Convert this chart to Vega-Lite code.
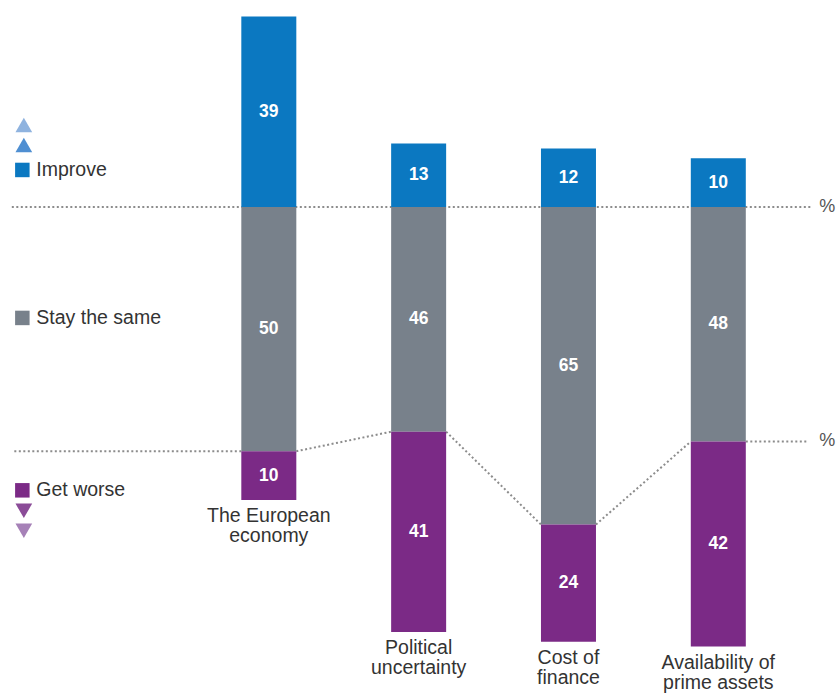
{
  "$schema": "https://vega.github.io/schema/vega-lite/v6.json",
  "width": 805,
  "height": 693,
  "autosize": {"type": "none"},
  "padding": {"left": 10, "right": 21, "top": 0, "bottom": 0},
  "background": "white",
  "config": {"view": {"stroke": null}, "font": "Liberation Sans"},
  "data": {"values": [
    {"category": "The European economy", "label": "The European\neconomy", "idx": 0, "response": "Improve", "pct": 39},
    {"category": "The European economy", "label": "The European\neconomy", "idx": 0, "response": "Stay the same", "pct": 50},
    {"category": "The European economy", "label": "The European\neconomy", "idx": 0, "response": "Get worse", "pct": 10},
    {"category": "Political uncertainty", "label": "Political\nuncertainty", "idx": 1, "response": "Improve", "pct": 13},
    {"category": "Political uncertainty", "label": "Political\nuncertainty", "idx": 1, "response": "Stay the same", "pct": 46},
    {"category": "Political uncertainty", "label": "Political\nuncertainty", "idx": 1, "response": "Get worse", "pct": 41},
    {"category": "Cost of finance", "label": "Cost of\nfinance", "idx": 2, "response": "Improve", "pct": 12},
    {"category": "Cost of finance", "label": "Cost of\nfinance", "idx": 2, "response": "Stay the same", "pct": 65},
    {"category": "Cost of finance", "label": "Cost of\nfinance", "idx": 2, "response": "Get worse", "pct": 24},
    {"category": "Availability of prime assets", "label": "Availability of\nprime assets", "idx": 3, "response": "Improve", "pct": 10},
    {"category": "Availability of prime assets", "label": "Availability of\nprime assets", "idx": 3, "response": "Stay the same", "pct": 48},
    {"category": "Availability of prime assets", "label": "Availability of\nprime assets", "idx": 3, "response": "Get worse", "pct": 42}
  ]},
  "transform": [
    {"calculate": "indexof(['Improve','Stay the same','Get worse'], datum.response)", "as": "ord"},
    {"calculate": "datum.response === 'Improve' ? datum.pct : -datum.pct", "as": "signed"},
    {"stack": "signed", "groupby": ["category"], "sort": [{"field": "ord", "order": "ascending"}], "as": ["y0", "y1"]},
    {"calculate": "(datum.y0 + datum.y1) / 2", "as": "ymid"},
    {"calculate": "min(datum.y0, datum.y1)", "as": "ybot"},
    {"calculate": "max(datum.y0, datum.y1)", "as": "ytop"}
  ],
  "layer": [
    {
      "transform": [
        {"filter": "datum.response === 'Stay the same'"},
        {"window": [{"op": "lead", "field": "idx", "as": "nidx"}, {"op": "lead", "field": "ybot", "as": "nybot"}], "sort": [{"field": "idx", "order": "ascending"}]},
        {"filter": "datum.nidx != null"}
      ],
      "mark": {"type": "rule", "color": "#8c8c8c", "strokeWidth": 2, "strokeDash": [2, 2.5], "xOffset": 27.5, "x2Offset": -27.5},
      "encoding": {
        "x": {"field": "idx", "type": "quantitative", "scale": {"domain": [-1.694, 3.612], "nice": false, "zero": false}, "axis": null},
        "x2": {"field": "nidx"},
        "y": {"field": "ybot", "type": "quantitative", "scale": {"domain": [-99.5, 42.4], "nice": false, "zero": false}, "axis": null},
        "y2": {"field": "nybot"}
      }
    },
    {
      "transform": [{"filter": "datum.response === 'Stay the same' && datum.idx === 0"}],
      "mark": {"type": "rule", "color": "#8c8c8c", "strokeWidth": 2, "strokeDash": [2, 2.5], "xOffset": -257, "x2Offset": 543},
      "encoding": {
        "x": {"field": "idx", "type": "quantitative", "axis": null},
        "x2": {"field": "idx"},
        "y": {"field": "ytop", "type": "quantitative", "axis": null}
      }
    },
    {
      "transform": [{"filter": "datum.response === 'Stay the same' && datum.idx === 0"}],
      "mark": {"type": "rule", "color": "#8c8c8c", "strokeWidth": 2, "strokeDash": [2, 2.5], "xOffset": -27.5, "x2Offset": -257},
      "encoding": {
        "x": {"field": "idx", "type": "quantitative", "axis": null},
        "x2": {"field": "idx"},
        "y": {"field": "ybot", "type": "quantitative", "axis": null}
      }
    },
    {
      "transform": [{"filter": "datum.response === 'Stay the same' && datum.idx === 3"}],
      "mark": {"type": "rule", "color": "#8c8c8c", "strokeWidth": 2, "strokeDash": [2, 2.5], "xOffset": 27.5, "x2Offset": 88},
      "encoding": {
        "x": {"field": "idx", "type": "quantitative", "axis": null},
        "x2": {"field": "idx"},
        "y": {"field": "ybot", "type": "quantitative", "axis": null}
      }
    },
    {
      "mark": {"type": "bar", "width": 55},
      "encoding": {
        "x": {"field": "idx", "type": "quantitative", "axis": null},
        "y": {"field": "y0", "type": "quantitative", "axis": null},
        "y2": {"field": "y1"},
        "color": {"field": "response", "type": "nominal", "legend": null,
          "scale": {"domain": ["Improve", "Stay the same", "Get worse"], "range": ["#0b78c1", "#78818b", "#7b2a86"]}}
      }
    },
    {
      "mark": {"type": "text", "color": "white", "fontWeight": "bold", "fontSize": 17.5, "font": "Liberation Sans Narrow, Liberation Sans, sans-serif"},
      "encoding": {
        "x": {"field": "idx", "type": "quantitative", "axis": null},
        "y": {"field": "ymid", "type": "quantitative", "axis": null},
        "text": {"field": "pct", "type": "quantitative"}
      }
    },
    {
      "transform": [{"filter": "datum.response === 'Get worse'"}],
      "mark": {"type": "text", "color": "#333333", "fontSize": 19.5, "baseline": "top", "dy": 7, "lineBreak": "\n", "lineHeight": 20},
      "encoding": {
        "x": {"field": "idx", "type": "quantitative", "axis": null},
        "y": {"field": "ybot", "type": "quantitative", "axis": null},
        "text": {"field": "label", "type": "nominal"}
      }
    },
    {
      "transform": [{"filter": "datum.response === 'Stay the same' && datum.idx === 3"}],
      "mark": {"type": "text", "text": "%", "color": "#555555", "fontSize": 18, "align": "left", "dx": 101},
      "encoding": {
        "x": {"field": "idx", "type": "quantitative", "axis": null},
        "y": {"field": "ytop", "type": "quantitative", "axis": null}
      }
    },
    {
      "transform": [{"filter": "datum.response === 'Stay the same' && datum.idx === 3"}],
      "mark": {"type": "text", "text": "%", "color": "#555555", "fontSize": 18, "align": "left", "dx": 101},
      "encoding": {
        "x": {"field": "idx", "type": "quantitative", "axis": null},
        "y": {"field": "ybot", "type": "quantitative", "axis": null}
      }
    },
    {
      "data": {"values": [{}]},
      "mark": {"type": "point", "shape": "triangle-up", "filled": true, "size": 280, "color": "#8fb3df", "opacity": 1},
      "encoding": {"x": {"datum": -1.635, "type": "quantitative"}, "y": {"datum": 16.8, "type": "quantitative"}}
    },
    {
      "data": {"values": [{}]},
      "mark": {"type": "point", "shape": "triangle-up", "filled": true, "size": 280, "color": "#4f8fd2", "opacity": 1},
      "encoding": {"x": {"datum": -1.635, "type": "quantitative"}, "y": {"datum": 12.7, "type": "quantitative"}}
    },
    {
      "data": {"values": [{}]},
      "mark": {"type": "point", "shape": "square", "filled": true, "size": 210, "color": "#0b78c1", "opacity": 1},
      "encoding": {"x": {"datum": -1.645, "type": "quantitative"}, "y": {"datum": 7.6, "type": "quantitative"}}
    },
    {
      "data": {"values": [{}]},
      "mark": {"type": "text", "text": "Improve", "color": "#333333", "fontSize": 19.5, "align": "left", "dx": 14},
      "encoding": {"x": {"datum": -1.645, "type": "quantitative"}, "y": {"datum": 7.6, "type": "quantitative"}}
    },
    {
      "data": {"values": [{}]},
      "mark": {"type": "point", "shape": "square", "filled": true, "size": 210, "color": "#78818b", "opacity": 1},
      "encoding": {"x": {"datum": -1.645, "type": "quantitative"}, "y": {"datum": -22.7, "type": "quantitative"}}
    },
    {
      "data": {"values": [{}]},
      "mark": {"type": "text", "text": "Stay the same", "color": "#333333", "fontSize": 19.5, "align": "left", "dx": 14},
      "encoding": {"x": {"datum": -1.645, "type": "quantitative"}, "y": {"datum": -22.7, "type": "quantitative"}}
    },
    {
      "data": {"values": [{}]},
      "mark": {"type": "point", "shape": "square", "filled": true, "size": 210, "color": "#7b2a86", "opacity": 1},
      "encoding": {"x": {"datum": -1.645, "type": "quantitative"}, "y": {"datum": -58.0, "type": "quantitative"}}
    },
    {
      "data": {"values": [{}]},
      "mark": {"type": "text", "text": "Get worse", "color": "#333333", "fontSize": 19.5, "align": "left", "dx": 14},
      "encoding": {"x": {"datum": -1.645, "type": "quantitative"}, "y": {"datum": -58.0, "type": "quantitative"}}
    },
    {
      "data": {"values": [{}]},
      "mark": {"type": "point", "shape": "triangle-down", "filled": true, "size": 280, "color": "#8b4c98", "opacity": 1},
      "encoding": {"x": {"datum": -1.635, "type": "quantitative"}, "y": {"datum": -62.2, "type": "quantitative"}}
    },
    {
      "data": {"values": [{}]},
      "mark": {"type": "point", "shape": "triangle-down", "filled": true, "size": 280, "color": "#a681b7", "opacity": 1},
      "encoding": {"x": {"datum": -1.635, "type": "quantitative"}, "y": {"datum": -66.3, "type": "quantitative"}}
    }
  ]
}
